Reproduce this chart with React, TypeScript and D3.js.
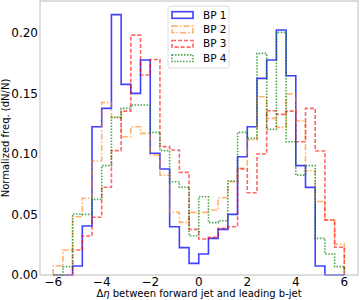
import * as d3 from 'd3';
import React from 'react';

// bin edges, width 0.4 from -6 to 6
const edges = [-6, -5.6, -5.2, -4.8, -4.4, -4, -3.6, -3.2, -2.8, -2.4, -2, -1.6, -1.2, -0.8, -0.4, 0,
    0.4, 0.8, 1.2, 1.6, 2, 2.4, 2.8, 3.2, 3.6, 4, 4.4, 4.8, 5.2, 5.6, 6];

const bp1 = [0, 0, 0.0074, 0.0405, 0.1226, 0.1377, 0.2152, 0.1576, 0.1501, 0.1777, 0.1006, 0.0876, 0.0399, 0.0226, 0.0096,
    0.0174, 0.0303, 0.0377, 0.0501, 0.0978, 0.1226, 0.1625, 0.1777, 0.2025, 0.1647, 0.0904, 0.0724, 0.0074, 0, 0];
const bp2 = [0.0074, 0.0207, 0.0482, 0.0634, 0.0942, 0.1427, 0.1303, 0.1143, 0.1226, 0.1171, 0.0992, 0.0826, 0.0518, 0.0435, 0.0518,
    0.0518, 0.0537, 0.0639, 0.0771, 0.0882, 0.1116, 0.1474, 0.1295, 0.122, 0.1496, 0.1273, 0.0862, 0.0608, 0.0455, 0.0255];
const bp3 = [0, 0, 0.0207, 0.0322, 0.0477, 0.0725, 0.1028, 0.1355, 0.1983, 0.1653, 0.1782, 0.1061, 0.1033, 0.0848, 0.0377,
    0.0298, 0.0311, 0.0386, 0.0399, 0.0876, 0.068, 0.1, 0.1358, 0.1328, 0.1355, 0.1102, 0.1377, 0.1025, 0.0455, 0.023];
const bp4 = [0, 0.0069, 0.0504, 0.0501, 0.0625, 0.0904, 0.1303, 0.1377, 0.1405, 0.1405, 0.1179, 0.1028, 0.0771, 0.0725, 0.0325,
    0.0647, 0.0433, 0.0449, 0.0777, 0.1179, 0.1129, 0.1832, 0.1204, 0.2006, 0.1102, 0.0826, 0.0904, 0.0303, 0.0174, 0.0069];

const labels = ['BP 1', 'BP 2', 'BP 3', 'BP 4'];
const xTicks = [-6, -4, -2, 0, 2, 4, 6];
const yTicks = [0, 0.05, 0.1, 0.15, 0.2];

const styles = [
    { color: 'blue', dash: null, opacity: 0.75 },
    { color: '#ff7f0e', dash: '6,2,1.5,2', opacity: 0.6 },
    { color: 'red', dash: '4,2', opacity: 0.6 },
    { color: 'green', dash: '1.5,1.5', opacity: 0.7 },
];

const left = 40, right = 358, top = 1, bottom = 275;
const font = 'DejaVu Sans, sans-serif';

export default function App() {
    const x = d3.scaleLinear().domain([-6.544, 6.564]).range([left, right]);
    const y = d3.scaleLinear().domain([0, 0.2265]).range([bottom, top]);
    const line = d3.line<[number, number]>().x(d => x(d[0])).y(d => y(d[1]));

    function stepPath(vals: number[]) {
        const pts: [number, number][] = [[edges[0], 0]];
        vals.forEach((v, i) => {
            pts.push([edges[i], v]);
            pts.push([edges[i + 1], v]);
        });
        pts.push([edges[edges.length - 1], 0]);
        return line(pts) || '';
    }

    const series = [bp1, bp2, bp3, bp4];

    return (
        <svg width={360} height={300} style={{ position: 'absolute', left: 0, top: 0, background: 'white' }}>
            <g>
                {series.map((s, i) => (
                    <path key={i} d={stepPath(s)} fill="none" stroke={styles[i].color}
                        strokeOpacity={styles[i].opacity} strokeWidth={1.6}
                        strokeDasharray={styles[i].dash || undefined} />
                ))}
            </g>
            <rect x={left} y={top} width={right - left} height={bottom - top} fill="none" stroke="#bcbcbc" strokeWidth={1} />
            {yTicks.map(t => (
                <text key={t} x={left - 2} y={y(t)} dy="0.35em" textAnchor="end" fontSize={12} fontFamily={font}>
                    {t.toFixed(2)}
                </text>
            ))}
            {xTicks.map(t => (
                <text key={t} x={x(t)} y={bottom + 10.5} textAnchor="middle" fontSize={12} fontFamily={font}>
                    {t < 0 ? '\u2212' + Math.abs(t) : t}
                </text>
            ))}
            <text x={(left + right) / 2} y={297} textAnchor="middle" fontSize={10} fontFamily={font}>
                Δ<tspan fontStyle="italic">η</tspan> between forward jet and leading b-jet
            </text>
            <text transform={`translate(9,${(top + bottom) / 2}) rotate(-90)`} textAnchor="middle" fontSize={10} fontFamily={font}>
                Normalized freq. (dN/N)
            </text>
            <g transform="translate(168,6)">
                <rect x={0} y={0} width={61} height={62} rx={2} fill="white" fillOpacity={0.8} stroke="#dddddd" />
                {labels.map((l, i) => (
                    <g key={l} transform={`translate(0,${9 + i * 14.4})`}>
                        <rect x={4} y={-3.3} width={21} height={6.6} fill="none" stroke={styles[i].color}
                            strokeOpacity={styles[i].opacity} strokeWidth={1.6}
                            strokeDasharray={styles[i].dash || undefined} />
                        <text x={35} y={0} dy="0.35em" fontSize={10.5} fontFamily={font}>{l}</text>
                    </g>
                ))}
            </g>
        </svg>
    );
}
